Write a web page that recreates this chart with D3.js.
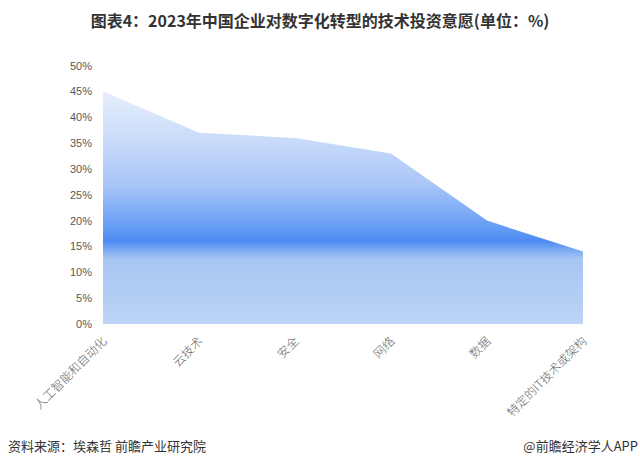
<!DOCTYPE html>
<html>
<head>
<meta charset="utf-8">
<script src="https://cdn.jsdelivr.net/npm/d3@7"></script>
<style>
  html, body { margin: 0; padding: 0; background: #fff; }
  svg { display: block; }
</style>
</head>
<body>
<svg id="chart" width="640" height="466"></svg>
<script>
const titleText = "图表4：2023年中国企业对数字化转型的技术投资意愿(单位：%)";
const sourceText = "资料来源：埃森哲 前瞻产业研究院";
const brandText = "@前瞻经济学人APP";
const categories = ["人工智能和自动化", "云技术", "安全", "网络", "数据", "特定的IT技术或架构"];
const values = [45, 37, 36, 33, 20, 14];
const yTicks = [0, 5, 10, 15, 20, 25, 30, 35, 40, 45, 50];

const svg = d3.select("#chart");
const cjk = "'Noto Sans CJK SC', 'Noto Sans', sans-serif";

const x = d3.scalePoint().domain(categories).range([103, 583]);
const y = d3.scaleLinear().domain([0, 50]).range([324, 65.5]);

// gradient
const defs = svg.append("defs");
const grad = defs.append("linearGradient")
  .attr("id", "areaGrad")
  .attr("gradientUnits", "userSpaceOnUse")
  .attr("x1", 0).attr("x2", 0)
  .attr("y1", y(45)).attr("y2", y(0));
const stops = [
  [0, "#e6eefc"],
  [0.18, "#cddefa"],
  [0.4, "#a9c6f8"],
  [0.6, "#5f98f5"],
  [0.645, "#4d8cf4"],
  [0.67, "#6aa0f3"],
  [0.72, "#a8c6f3"],
  [1, "#bcd4f5"]
];
grad.selectAll("stop").data(stops).join("stop")
  .attr("offset", d => d[0]).attr("stop-color", d => d[1]);

const area = d3.area()
  .x((d, i) => x(categories[i]))
  .y0(y(0))
  .y1(d => y(d));

svg.append("path")
  .datum(values)
  .attr("d", area)
  .attr("fill", "url(#areaGrad)");

// y axis
const yAxis = d3.axisLeft(y).tickValues(yTicks).tickFormat(d => d + "%").tickSize(0).tickPadding(0);
const gy = svg.append("g").attr("transform", "translate(92,0)").call(yAxis);
gy.select(".domain").remove();
gy.selectAll("text")
  .attr("fill", "#595959")
  .style("font-family", "'Liberation Sans', Arial, sans-serif")
  .style("font-size", "11px");

// x axis
const xAxis = d3.axisBottom(x).tickSize(0).tickPadding(0);
const gx = svg.append("g").attr("transform", "translate(0," + y(0) + ")").call(xAxis);
gx.select(".domain").remove();
gx.selectAll("text")
  .attr("fill", "#666")
  .attr("text-anchor", "end")
  .attr("dy", null)
  .attr("y", 0)
  .attr("transform", "translate(4,18) rotate(-45)")
  .style("font-family", cjk)
  .style("font-weight", "300")
  .style("font-size", "12px");

// title
svg.append("text")
  .attr("x", 320).attr("y", 27)
  .attr("text-anchor", "middle")
  .attr("fill", "#333")
  .style("font-family", cjk)
  .style("font-weight", "bold")
  .style("font-size", "16px")
  .text(titleText);

// footer
svg.append("text")
  .attr("x", 8).attr("y", 451)
  .attr("fill", "#333")
  .style("font-family", cjk)
  .style("font-size", "13px")
  .text(sourceText);

svg.append("text")
  .attr("x", 638).attr("y", 451)
  .attr("text-anchor", "end")
  .attr("fill", "#333")
  .style("font-family", cjk)
  .style("font-size", "13px")
  .text(brandText);
</script>
</body>
</html>
